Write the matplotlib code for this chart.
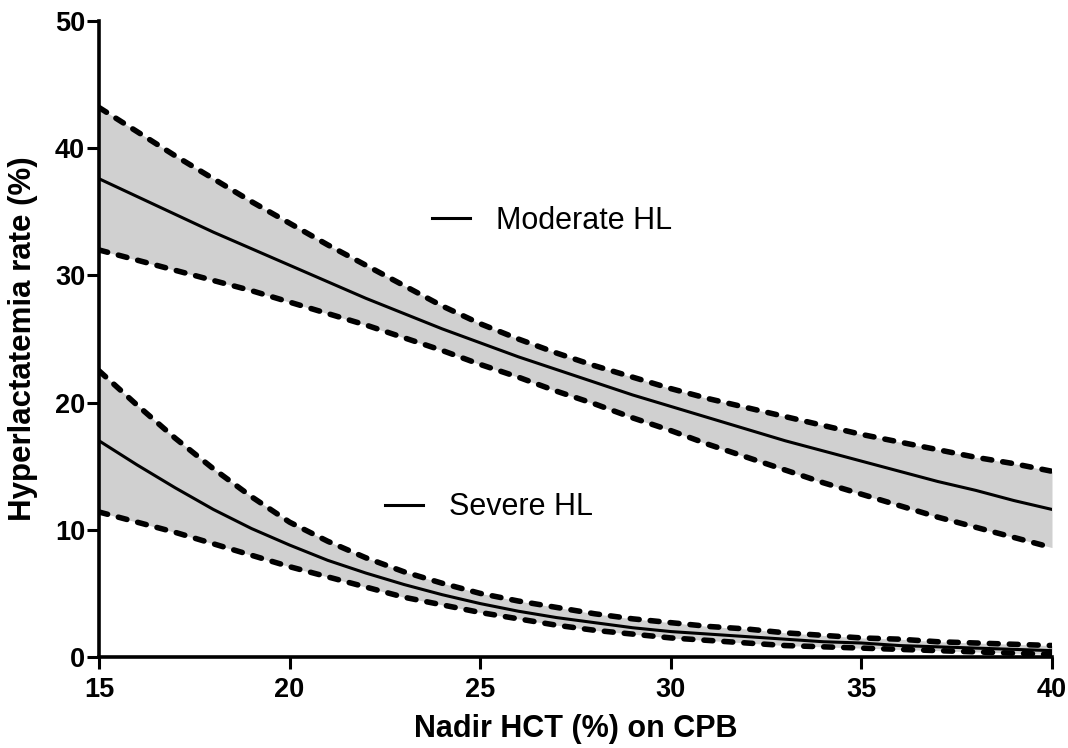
import matplotlib
matplotlib.use("Agg")
import matplotlib.pyplot as plt
from matplotlib.lines import Line2D

# Data (Nadir HCT %, rate %)
hct = list(range(15, 41))
moderate_mean = [37.6, 36.2, 34.8, 33.4, 32.1, 30.8, 29.5, 28.2, 27.0, 25.8,
                 24.7, 23.6, 22.6, 21.6, 20.6, 19.7, 18.8, 17.9, 17.0, 16.2,
                 15.4, 14.6, 13.8, 13.1, 12.3, 11.6]
moderate_upper = [43.2, 41.3, 39.4, 37.6, 35.8, 34.1, 32.4, 30.8, 29.2, 27.6,
                  26.2, 25.0, 23.9, 22.9, 22.0, 21.1, 20.3, 19.6, 18.9, 18.2,
                  17.5, 16.9, 16.3, 15.7, 15.2, 14.6]
moderate_lower = [32.0, 31.2, 30.4, 29.6, 28.8, 27.9, 27.0, 26.1, 25.1, 24.1,
                  23.0, 22.0, 20.9, 19.9, 18.8, 17.8, 16.7, 15.7, 14.7, 13.7,
                  12.8, 11.9, 11.0, 10.2, 9.4, 8.6]
severe_mean = [17.0, 15.1, 13.3, 11.6, 10.1, 8.8, 7.6, 6.6, 5.7, 4.9,
               4.2, 3.6, 3.1, 2.7, 2.3, 2.0, 1.8, 1.6, 1.4, 1.2,
               1.1, 0.9, 0.8, 0.7, 0.6, 0.5]
severe_upper = [22.5, 19.8, 17.2, 14.8, 12.6, 10.6, 9.1, 7.8, 6.7, 5.8,
                5.0, 4.4, 3.9, 3.4, 3.0, 2.7, 2.4, 2.2, 1.9, 1.7,
                1.5, 1.4, 1.2, 1.1, 1.0, 0.9]
severe_lower = [11.4, 10.6, 9.8, 8.9, 8.0, 7.1, 6.3, 5.5, 4.7, 4.1,
                3.5, 3.0, 2.5, 2.1, 1.8, 1.5, 1.3, 1.1, 0.9, 0.8,
                0.7, 0.6, 0.5, 0.4, 0.3, 0.2]

xticks = [15, 20, 25, 30, 35, 40]
yticks = [0, 10, 20, 30, 40, 50]
legend_labels = ["Moderate HL", "Severe HL"]

plt.rcParams['font.family'] = ['Liberation Sans', 'DejaVu Sans']

fig = plt.figure(figsize=(10.68, 7.48), dpi=100)
ax = fig.add_axes([99/1068, 1-657/748, 953/1068, 636/748])

fill_color = '#d0d0d0'
dash_kw = dict(color='black', lw=4.0, linestyle=(0, (1.6, 2.0)),
               dash_capstyle='round', solid_capstyle='round')

for lo, mid, hi in [(moderate_lower, moderate_mean, moderate_upper),
                    (severe_lower, severe_mean, severe_upper)]:
    ax.fill_between(hct, lo, hi, color=fill_color, lw=0, zorder=1)
    ax.plot(hct, hi, zorder=3, **dash_kw)
    ax.plot(hct, lo, zorder=3, **dash_kw)
    ax.plot(hct, mid, color='black', lw=2.2, zorder=4)

ax.set_xlim(15, 40)
ax.set_ylim(0, 50)
ax.set_xticks(xticks)
ax.set_yticks(yticks)
ax.set_xticklabels([str(t) for t in xticks], fontsize=19.5, fontweight='bold')
ax.set_yticklabels([str(t) for t in yticks], fontsize=19.5, fontweight='bold')
ax.tick_params(direction='out', length=8.5, width=2.2)
ax.tick_params(axis='x', pad=6)
ax.tick_params(axis='y', pad=1.5)

for s in ['top', 'right']:
    ax.spines[s].set_visible(False)
for s in ['left', 'bottom']:
    ax.spines[s].set_linewidth(2.6)
    ax.spines[s].set_zorder(5)

ax.set_xlabel("Nadir HCT (%) on CPB", fontsize=22, fontweight='bold', labelpad=8)
ax.set_ylabel("Hyperlactatemia rate (%)", fontsize=22.5, fontweight='bold', labelpad=12)

leg_font = dict(family=['Liberation Sans', 'DejaVu Sans'], size=22)
h1 = Line2D([], [], color='black', lw=2.2)
leg1 = ax.legend([h1], [legend_labels[0]], loc='center left',
                 bbox_to_anchor=(0.3494, 0.686), frameon=False, prop=leg_font,
                 handlelength=1.25, handletextpad=0.85, borderpad=0, borderaxespad=0)
ax.add_artist(leg1)
h2 = Line2D([], [], color='black', lw=2.2)
leg2 = ax.legend([h2], [legend_labels[1]], loc='center left',
                 bbox_to_anchor=(0.3001, 0.2355), frameon=False, prop=leg_font,
                 handlelength=1.25, handletextpad=0.85, borderpad=0, borderaxespad=0)

fig.savefig("out.png", dpi=100)
